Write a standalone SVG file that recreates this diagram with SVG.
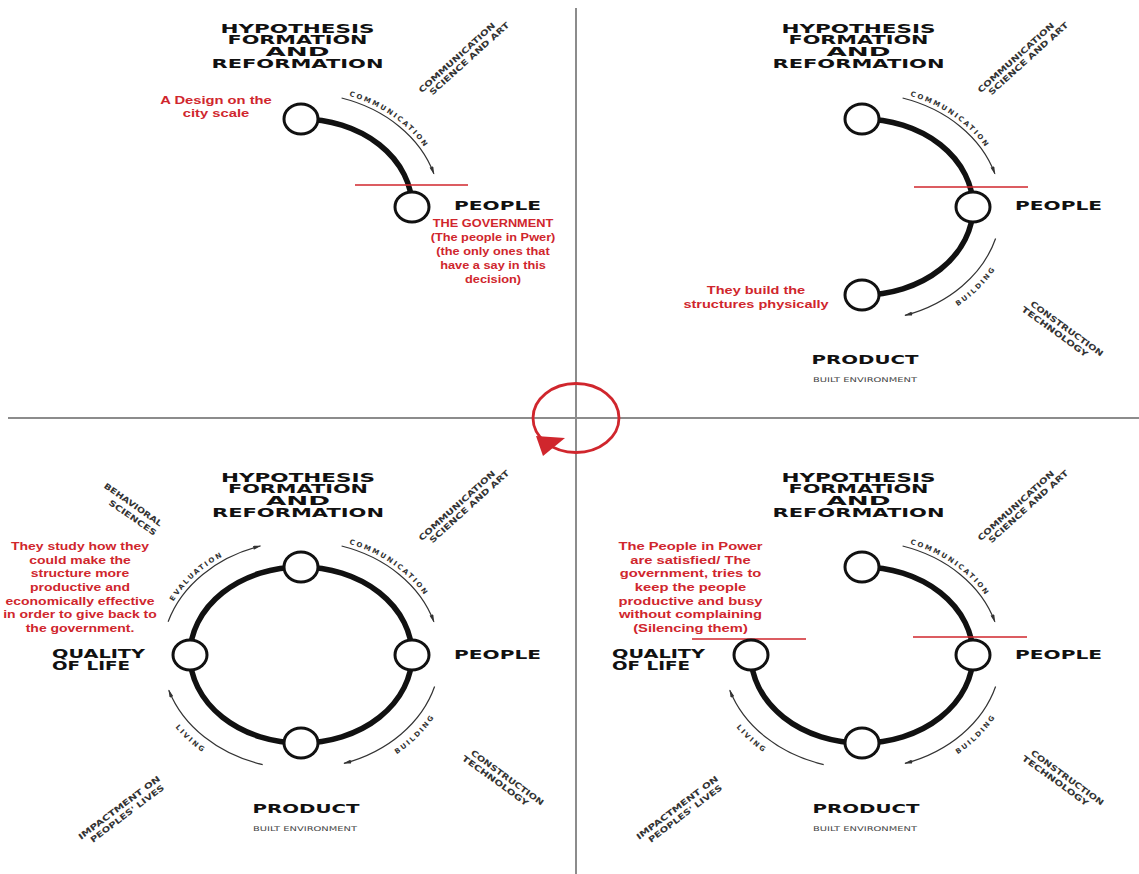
<svg xmlns="http://www.w3.org/2000/svg" width="1139" height="874" viewBox="0 0 1139 874">
<defs>
<style>
.ring{fill:none;stroke:#111;stroke-width:5.5}
.flow{fill:none;stroke:#333;stroke-width:1.2;marker-end:url(#ah)}
.node{fill:#fff;stroke:#111;stroke-width:3}
.title{font-family:"DejaVu Sans","Liberation Sans",sans-serif;font-weight:bold;font-size:12px;fill:#111;text-anchor:middle}
.big{font-family:"DejaVu Sans","Liberation Sans",sans-serif;font-weight:bold;font-size:13px;fill:#111}
.side{font-family:"DejaVu Sans","Liberation Sans",sans-serif;font-weight:bold;font-size:8px;fill:#333;text-anchor:middle}
.arcl{font-family:"DejaVu Sans","Liberation Sans",sans-serif;font-weight:bold;font-size:7px;fill:#333;letter-spacing:2px}
.sub{font-family:"DejaVu Sans","Liberation Sans",sans-serif;font-size:6.5px;fill:#444;text-anchor:middle}
.red{font-family:"Liberation Sans",Arial,sans-serif;font-weight:bold;font-size:11px;fill:#d0262d;text-anchor:middle}
.redline{stroke:#d0262d;stroke-width:1.5}
.axis{stroke:#8c8c8c;stroke-width:2}
</style>
<marker id="ah" viewBox="0 0 10 5" refX="9" refY="2.5" markerWidth="9" markerHeight="4" markerUnits="userSpaceOnUse" orient="auto"><path d="M0,0 L10,2.5 L0,5 z" fill="#333"/></marker>
<path id="p-comm" d="M 44.2 -112.2 A 143 118 0 0 1 126.3 -55.4"/>
<path id="p-eval" d="M -130.7 -48 A 143 118 0 0 1 -71.5 -102.2"/>
<path id="p-build" d="M 90 102.7 A 154 127 0 0 0 137.5 55.6"/>
<path id="p-living" d="M -132.5 63.5 A 154 127 0 0 0 -87.8 104"/>
</defs>
<rect width="1139" height="874" fill="#fff"/>

<g id="axes">
<line class="axis" x1="576" y1="8" x2="576" y2="874"/>
<line class="axis" x1="8" y1="418" x2="1139" y2="418"/>
</g>

<g id="cycle-symbol">
<ellipse cx="576" cy="418" rx="43" ry="34.5" fill="none" stroke="#d0262d" stroke-width="2.8"/>
<polygon points="543,456 536,436 565,438" fill="#d0262d"/>
</g>

<g id="connectors">
<g transform="translate(301,207)">
<path class="ring" d="M0 -88 A111 88 0 0 1 111 0"/>
<path class="flow" d="M40.6 -109 A139 114 0 0 1 132.9 -33.3"/>
</g>
<g transform="translate(862,207)">
<path class="ring" d="M0 -88 A111 88 0 0 1 111 0 A111 88 0 0 1 0 88"/>
<path class="flow" d="M40.6 -109 A139 114 0 0 1 132.9 -33.3"/>
<path class="flow" d="M133.6 31.5 A139 114 0 0 1 43 108.4"/>
</g>
<g transform="translate(301,655)">
<ellipse class="ring" cx="0" cy="0" rx="111" ry="88"/>
<path class="flow" d="M40.6 -109 A139 114 0 0 1 132.9 -33.3"/>
<path class="flow" d="M133.6 31.5 A139 114 0 0 1 43 108.4"/>
<path class="flow" d="M-38.3 109.6 A139 114 0 0 1 -132.2 35.2"/>
<path class="flow" d="M-132.9 -33.3 A139 114 0 0 1 -40.6 -109"/>
</g>
<g transform="translate(862,655)">
<path class="ring" d="M0 -88 A111 88 0 0 1 111 0 A111 88 0 0 1 0 88 A111 88 0 0 1 -111 0"/>
<path class="flow" d="M40.6 -109 A139 114 0 0 1 132.9 -33.3"/>
<path class="flow" d="M133.6 31.5 A139 114 0 0 1 43 108.4"/>
<path class="flow" d="M-38.3 109.6 A139 114 0 0 1 -132.2 35.2"/>
</g>
</g>

<g id="flow-labels">
<g transform="translate(301,207)">
<text class="arcl"><textPath href="#p-comm" startOffset="50%" text-anchor="middle">COMMUNICATION</textPath></text>
</g>
<g transform="translate(862,207)">
<text class="arcl"><textPath href="#p-comm" startOffset="50%" text-anchor="middle">COMMUNICATION</textPath></text>
<text class="arcl"><textPath href="#p-build" startOffset="50%" text-anchor="middle">BUILDING</textPath></text>
</g>
<g transform="translate(301,655)">
<text class="arcl"><textPath href="#p-comm" startOffset="50%" text-anchor="middle">COMMUNICATION</textPath></text>
<text class="arcl"><textPath href="#p-build" startOffset="50%" text-anchor="middle">BUILDING</textPath></text>
<text class="arcl"><textPath href="#p-living" startOffset="50%" text-anchor="middle">LIVING</textPath></text>
<text class="arcl"><textPath href="#p-eval" startOffset="50%" text-anchor="middle">EVALUATION</textPath></text>
</g>
<g transform="translate(862,655)">
<text class="arcl"><textPath href="#p-comm" startOffset="50%" text-anchor="middle">COMMUNICATION</textPath></text>
<text class="arcl"><textPath href="#p-build" startOffset="50%" text-anchor="middle">BUILDING</textPath></text>
<text class="arcl"><textPath href="#p-living" startOffset="50%" text-anchor="middle">LIVING</textPath></text>
</g>
</g>

<g id="annotation-lines">
<line class="redline" x1="355" y1="185" x2="468" y2="185"/>
<line class="redline" x1="914" y1="187" x2="1028" y2="187"/>
<line class="redline" x1="913" y1="637" x2="1027" y2="637"/>
<line class="redline" x1="692" y1="639" x2="806" y2="639"/>
</g>

<g id="q1-node-hypothesis"><ellipse class="node" cx="301" cy="119" rx="17" ry="15"/></g>
<g id="q1-node-people"><ellipse class="node" cx="412" cy="207" rx="17" ry="15"/></g>
<g id="q2-node-hypothesis"><ellipse class="node" cx="862" cy="119" rx="17" ry="15"/></g>
<g id="q2-node-people"><ellipse class="node" cx="973" cy="207" rx="17" ry="15"/></g>
<g id="q2-node-product"><ellipse class="node" cx="862" cy="295" rx="17" ry="15"/></g>
<g id="q3-node-hypothesis"><ellipse class="node" cx="301" cy="567" rx="17" ry="15"/></g>
<g id="q3-node-people"><ellipse class="node" cx="412" cy="655" rx="17" ry="15"/></g>
<g id="q3-node-product"><ellipse class="node" cx="301" cy="743" rx="17" ry="15"/></g>
<g id="q3-node-quality"><ellipse class="node" cx="190" cy="655" rx="17" ry="15"/></g>
<g id="q4-node-hypothesis"><ellipse class="node" cx="862" cy="567" rx="17" ry="15"/></g>
<g id="q4-node-people"><ellipse class="node" cx="973" cy="655" rx="17" ry="15"/></g>
<g id="q4-node-product"><ellipse class="node" cx="862" cy="743" rx="17" ry="15"/></g>
<g id="q4-node-quality"><ellipse class="node" cx="751" cy="655" rx="17" ry="15"/></g>

<g id="titles">
<g transform="translate(297.5,0)">
<text class="title" x="0" y="32.5" textLength="154" lengthAdjust="spacingAndGlyphs">HYPOTHESIS</text>
<text class="title" x="0" y="44.2" textLength="140" lengthAdjust="spacingAndGlyphs">FORMATION</text>
<text class="title" x="0" y="55.9" textLength="64" lengthAdjust="spacingAndGlyphs">AND</text>
<text class="title" x="0" y="67.6" textLength="172" lengthAdjust="spacingAndGlyphs">REFORMATION</text>
</g>
<g transform="translate(858.5,0)">
<text class="title" x="0" y="32.5" textLength="154" lengthAdjust="spacingAndGlyphs">HYPOTHESIS</text>
<text class="title" x="0" y="44.2" textLength="140" lengthAdjust="spacingAndGlyphs">FORMATION</text>
<text class="title" x="0" y="55.9" textLength="64" lengthAdjust="spacingAndGlyphs">AND</text>
<text class="title" x="0" y="67.6" textLength="172" lengthAdjust="spacingAndGlyphs">REFORMATION</text>
</g>
<g transform="translate(298,449)">
<text class="title" x="0" y="32.5" textLength="154" lengthAdjust="spacingAndGlyphs">HYPOTHESIS</text>
<text class="title" x="0" y="44.2" textLength="140" lengthAdjust="spacingAndGlyphs">FORMATION</text>
<text class="title" x="0" y="55.9" textLength="64" lengthAdjust="spacingAndGlyphs">AND</text>
<text class="title" x="0" y="67.6" textLength="172" lengthAdjust="spacingAndGlyphs">REFORMATION</text>
</g>
<g transform="translate(858.5,449)">
<text class="title" x="0" y="32.5" textLength="154" lengthAdjust="spacingAndGlyphs">HYPOTHESIS</text>
<text class="title" x="0" y="44.2" textLength="140" lengthAdjust="spacingAndGlyphs">FORMATION</text>
<text class="title" x="0" y="55.9" textLength="64" lengthAdjust="spacingAndGlyphs">AND</text>
<text class="title" x="0" y="67.6" textLength="172" lengthAdjust="spacingAndGlyphs">REFORMATION</text>
</g>
</g>

<g id="labels">
<text class="big" x="497.5" y="210" text-anchor="middle" textLength="87" lengthAdjust="spacingAndGlyphs">PEOPLE</text>
<text class="big" x="1058.5" y="210" text-anchor="middle" textLength="87" lengthAdjust="spacingAndGlyphs">PEOPLE</text>
<text class="big" x="497.5" y="658.5" text-anchor="middle" textLength="87" lengthAdjust="spacingAndGlyphs">PEOPLE</text>
<text class="big" x="1058.5" y="658.5" text-anchor="middle" textLength="87" lengthAdjust="spacingAndGlyphs">PEOPLE</text>

<text class="big" x="865" y="364" text-anchor="middle" textLength="107" lengthAdjust="spacingAndGlyphs">PRODUCT</text>
<text class="sub" x="865" y="381.5" textLength="104" lengthAdjust="spacingAndGlyphs">BUILT ENVIRONMENT</text>
<text class="big" x="306" y="813" text-anchor="middle" textLength="107" lengthAdjust="spacingAndGlyphs">PRODUCT</text>
<text class="sub" x="305" y="831" textLength="104" lengthAdjust="spacingAndGlyphs">BUILT ENVIRONMENT</text>
<text class="big" x="866" y="813" text-anchor="middle" textLength="107" lengthAdjust="spacingAndGlyphs">PRODUCT</text>
<text class="sub" x="865" y="831" textLength="104" lengthAdjust="spacingAndGlyphs">BUILT ENVIRONMENT</text>

<text class="big" x="52" y="658" textLength="93" lengthAdjust="spacingAndGlyphs">QUALITY</text>
<text class="big" x="52" y="670" textLength="78" lengthAdjust="spacingAndGlyphs">OF LIFE</text>
<text class="big" x="612" y="658" textLength="93" lengthAdjust="spacingAndGlyphs">QUALITY</text>
<text class="big" x="612" y="670" textLength="78" lengthAdjust="spacingAndGlyphs">OF LIFE</text>
</g>

<g id="side-labels">
<g transform="translate(463,58) rotate(-42)">
<text class="side" x="-4.3" y="-1.5" textLength="100" lengthAdjust="spacingAndGlyphs">COMMUNICATION</text>
<text class="side" x="4.3" y="7.5" textLength="104" lengthAdjust="spacingAndGlyphs">SCIENCE AND ART</text>
</g>
<g transform="translate(1022,58) rotate(-42)">
<text class="side" x="-4.3" y="-1.5" textLength="100" lengthAdjust="spacingAndGlyphs">COMMUNICATION</text>
<text class="side" x="4.3" y="7.5" textLength="104" lengthAdjust="spacingAndGlyphs">SCIENCE AND ART</text>
</g>
<g transform="translate(463,506) rotate(-42)">
<text class="side" x="-4.3" y="-1.5" textLength="100" lengthAdjust="spacingAndGlyphs">COMMUNICATION</text>
<text class="side" x="4.3" y="7.5" textLength="104" lengthAdjust="spacingAndGlyphs">SCIENCE AND ART</text>
</g>
<g transform="translate(1022,506) rotate(-42)">
<text class="side" x="-4.3" y="-1.5" textLength="100" lengthAdjust="spacingAndGlyphs">COMMUNICATION</text>
<text class="side" x="4.3" y="7.5" textLength="104" lengthAdjust="spacingAndGlyphs">SCIENCE AND ART</text>
</g>

<g transform="translate(1061,330) rotate(36)">
<text class="side" x="4" y="-1.7" textLength="88" lengthAdjust="spacingAndGlyphs">CONSTRUCTION</text>
<text class="side" x="-4" y="7.8" textLength="80" lengthAdjust="spacingAndGlyphs">TECHNOLOGY</text>
</g>
<g transform="translate(501.5,779) rotate(36)">
<text class="side" x="4" y="-1.7" textLength="88" lengthAdjust="spacingAndGlyphs">CONSTRUCTION</text>
<text class="side" x="-4" y="7.8" textLength="80" lengthAdjust="spacingAndGlyphs">TECHNOLOGY</text>
</g>
<g transform="translate(1061.5,779) rotate(36)">
<text class="side" x="4" y="-1.7" textLength="88" lengthAdjust="spacingAndGlyphs">CONSTRUCTION</text>
<text class="side" x="-4" y="7.8" textLength="80" lengthAdjust="spacingAndGlyphs">TECHNOLOGY</text>
</g>

<g transform="translate(133,511) rotate(35)">
<text class="side" x="-3.5" y="-2.5" textLength="69" lengthAdjust="spacingAndGlyphs">BEHAVIORAL</text>
<text class="side" x="3.5" y="8.5" textLength="56" lengthAdjust="spacingAndGlyphs">SCIENCES</text>
</g>

<g transform="translate(123,810.5) rotate(-37)">
<text class="side" x="-1.4" y="-1.8" textLength="100" lengthAdjust="spacingAndGlyphs">IMPACTMENT ON</text>
<text class="side" x="1.4" y="7.8" textLength="90" lengthAdjust="spacingAndGlyphs">PEOPLES' LIVES</text>
</g>
<g transform="translate(681,810.5) rotate(-37)">
<text class="side" x="-1.4" y="-1.8" textLength="100" lengthAdjust="spacingAndGlyphs">IMPACTMENT ON</text>
<text class="side" x="1.4" y="7.8" textLength="90" lengthAdjust="spacingAndGlyphs">PEOPLES' LIVES</text>
</g>
</g>

<g id="notes">
<g transform="translate(216,0) scale(1.34,1)">
<text class="red" x="0" y="104">A Design on the</text>
<text class="red" x="0" y="117.5">city scale</text>
</g>
<g transform="translate(493,0) scale(1.16,1)">
<text class="red" x="0" y="227">THE GOVERNMENT</text>
<text class="red" x="0" y="241">(The people in Pwer)</text>
<text class="red" x="0" y="255">(the only ones that</text>
<text class="red" x="0" y="269">have a say in this</text>
<text class="red" x="0" y="283">decision)</text>
</g>
<g transform="translate(756,0) scale(1.32,1)">
<text class="red" x="0" y="294">They build the</text>
<text class="red" x="0" y="308.5">structures physically</text>
</g>
<g transform="translate(80,0) scale(1.27,1)">
<text class="red" x="0" y="550">They study how they</text>
<text class="red" x="0" y="563.7">could make the</text>
<text class="red" x="0" y="577.3">structure more</text>
<text class="red" x="0" y="591">productive and</text>
<text class="red" x="0" y="604.7">economically effective</text>
<text class="red" x="0" y="618.3">in order to give back to</text>
<text class="red" x="0" y="632">the government.</text>
</g>
<g transform="translate(690.5,0) scale(1.34,1)">
<text class="red" x="0" y="550">The People in Power</text>
<text class="red" x="0" y="563.7">are satisfied/ The</text>
<text class="red" x="0" y="577.3">government, tries to</text>
<text class="red" x="0" y="591">keep the people</text>
<text class="red" x="0" y="604.7">productive and busy</text>
<text class="red" x="0" y="618.3">without complaining</text>
<text class="red" x="0" y="632">(Silencing them)</text>
</g>
</g>
</svg>
